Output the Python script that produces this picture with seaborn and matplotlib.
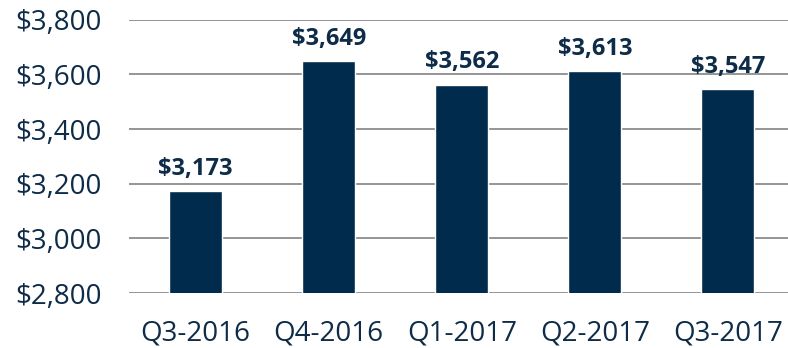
import matplotlib
matplotlib.use("Agg")
import matplotlib.pyplot as plt
import seaborn as sns
import pandas as pd

quarters = ["Q3-2016", "Q4-2016", "Q1-2017", "Q2-2017", "Q3-2017"]
revenue = [3173, 3649, 3562, 3613, 3547]
y_ticks = [2800, 3000, 3200, 3400, 3600, 3800]

sns.set_theme(style="white")
plt.rcParams["font.family"] = ["Open Sans", "DejaVu Sans"]

navy = "#002B4D"
text_color = "#0E2C48"

df = pd.DataFrame({"quarter": quarters, "revenue": revenue})

fig = plt.figure(figsize=(7.88, 3.48), dpi=100)
ax = fig.add_axes([0.164, 0.158, 0.844, 0.785])

ax.set_axisbelow(True)
for y in y_ticks:
    ax.axhline(y, color="#8C8C8C", linewidth=1.3, zorder=0)

sns.barplot(data=df, x="quarter", y="revenue", color=navy, width=0.40,
            saturation=1, ax=ax, zorder=2)

ax.set_ylim(2800, 3800)
ax.set_xlim(-0.5, 4.5)
ax.set_yticks(y_ticks)
ax.set_yticklabels([f"${v:,}" for v in y_ticks])
ax.tick_params(axis="y", labelsize=20, colors=text_color, length=0, pad=20)
ax.tick_params(axis="x", labelsize=20, colors=text_color, length=0, pad=19)
ax.set_xlabel("")
ax.set_ylabel("")
for s in ax.spines.values():
    s.set_visible(False)

for i, v in enumerate(revenue):
    ax.text(i, v + 38, f"${v:,}", ha="center", va="bottom", fontsize=17,
            fontweight="bold", color=text_color)

fig.savefig("out.png", dpi=100)
